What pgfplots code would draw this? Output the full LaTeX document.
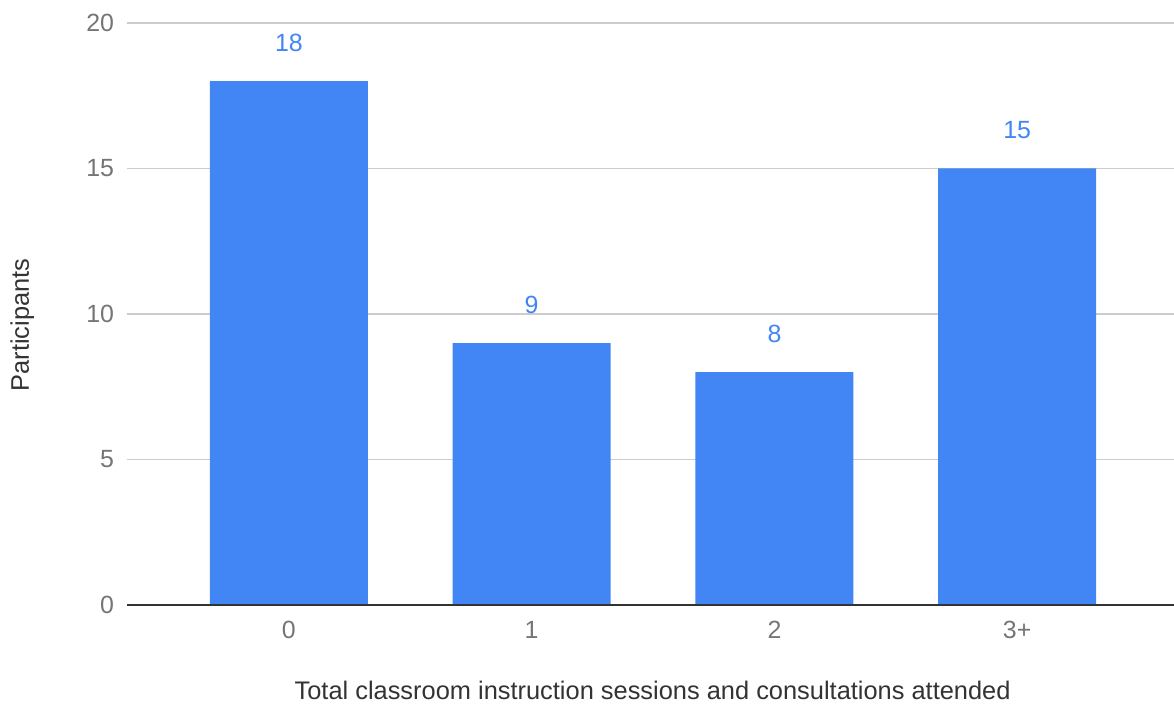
\documentclass[border=0pt]{standalone}
\usepackage{pgfplots}
\pgfplotsset{compat=1.18}
\usepackage{fontspec}
\setmainfont{Liberation Sans}

\definecolor{barblue}{HTML}{4285F4}
\definecolor{tickgray}{HTML}{757575}
\definecolor{titlegray}{HTML}{333333}
\definecolor{gridgray}{HTML}{CCCCCC}

\begin{document}
\begin{tikzpicture}
\begin{axis}[
  name=ax,
  scale only axis,
  width=523.5bp, height=291bp,
  ybar, bar width=79bp,
  xmin=-0.667, xmax=3.646,
  ymin=0, ymax=20,
  xtick={0,1,2,3},
  xticklabels={0,1,2,3+},
  ytick={0,5,10,15,20},
  axis line style={draw=none},
  major tick length=0pt,
  ymajorgrids,
  grid style={gridgray, line width=0.6bp},
  tick label style={tickgray, font=\fontsize{12.5}{14}\selectfont},
  yticklabel style={anchor=east, xshift=-3bp},
  xticklabel style={anchor=center, yshift=-12.5bp},
  /pgf/number format/assume math mode=true,
  xlabel={Total classroom instruction sessions and consultations attended},
  ylabel={Participants},
  label style={titlegray, font=\fontsize{12.75}{14}\selectfont},
  xlabel style={at={(axis description cs:0.502,-0.146)}, anchor=center},
  ylabel style={at={(axis description cs:-0.1,0.481)}, anchor=center},
  nodes near coords,
  every node near coord/.append style={barblue, font=\fontsize{12.5}{14}\selectfont, anchor=center, yshift=19bp},
  clip=false,
]
\addplot[fill=barblue, draw=none] coordinates {(0,18) (1,9) (2,8) (3,15)};
\draw[titlegray, line width=1bp] (rel axis cs:0,0) -- (rel axis cs:1,0);
\end{axis}
\pgfresetboundingbox
\path[use as bounding box] ([xshift=-63.5bp, yshift=-51bp]ax.south west) rectangle ([yshift=11.5bp]ax.north east);
\end{tikzpicture}
\end{document}
